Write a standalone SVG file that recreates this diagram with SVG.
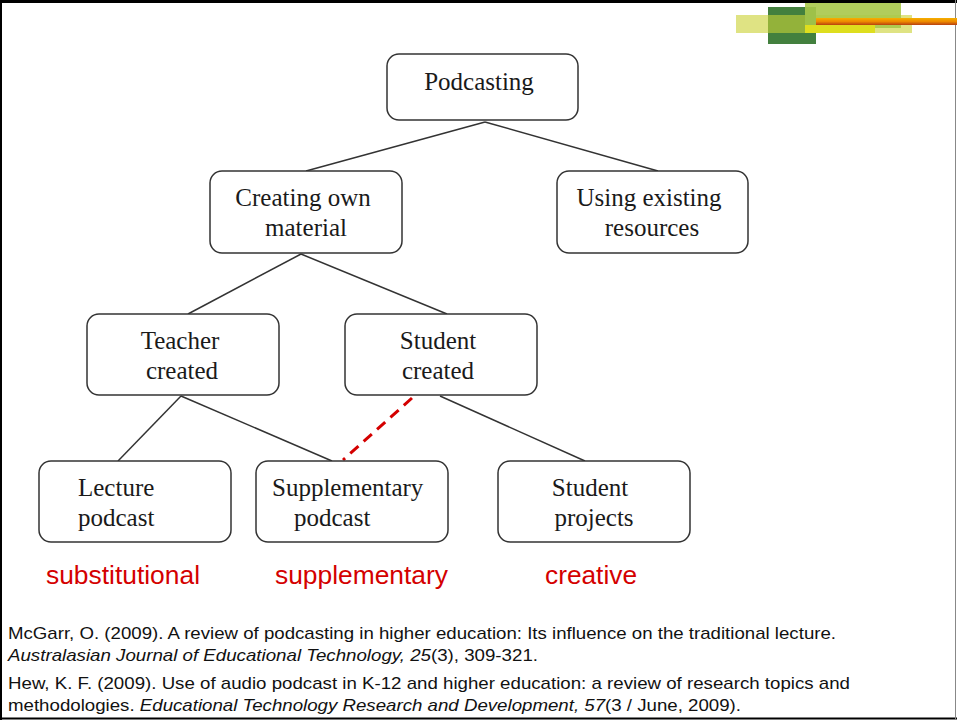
<svg xmlns="http://www.w3.org/2000/svg" width="957" height="720" viewBox="0 0 957 720">
<defs>
<style>
.box{fill:#fff;stroke:#333;stroke-width:1.5}
.nt{font-family:"Liberation Serif","Times New Roman",serif;font-size:25px;fill:#1a1a1a}
.c{text-anchor:middle}
.edge{stroke:#333;stroke-width:1.5;fill:none}
.dash{stroke:#d40000;stroke-width:3;stroke-dasharray:11 7;fill:none}
.lab{font-family:"Liberation Sans",Arial,sans-serif;font-size:26px;fill:#d40000}
.ref{font-family:"Liberation Sans",Arial,sans-serif;font-size:17px;fill:#111}
.it{font-style:italic}
</style>
<linearGradient id="og" x1="0" y1="0" x2="0" y2="1">
<stop offset="0" stop-color="#f5b000"/>
<stop offset="0.5" stop-color="#ee8a00"/>
<stop offset="1" stop-color="#b84010"/>
</linearGradient>
</defs>
<rect x="0" y="0" width="957" height="720" fill="#fff"/>
<g id="frame">
<line x1="0" y1="1.5" x2="957" y2="1.5" stroke="#000" stroke-width="3"/>
<line x1="1" y1="0" x2="1" y2="720" stroke="#000" stroke-width="2"/>
<line x1="0" y1="718.5" x2="957" y2="718.5" stroke="#000" stroke-width="2"/>
<line x1="955.5" y1="0" x2="955.5" y2="720" stroke="#888" stroke-width="1"/>
</g>
<g id="logo">
<rect x="736" y="15" width="176" height="18" fill="#dfe383"/>
<rect x="768" y="7" width="48" height="37" fill="#43803e"/>
<rect x="805" y="3" width="96" height="25" fill="#a9c84a" opacity="0.9"/>
<rect x="768" y="15" width="37" height="18" fill="#93b23a"/>
<rect x="805" y="25" width="70" height="8" fill="#dede1e"/>
<rect x="816" y="18" width="141" height="7" fill="url(#og)"/>
</g>
<g id="connectors">
<line class="edge" x1="485" y1="122" x2="306" y2="171"/>
<line class="edge" x1="485" y1="122" x2="658" y2="171"/>
<line class="edge" x1="301" y1="254" x2="188" y2="314"/>
<line class="edge" x1="301" y1="254" x2="447" y2="314"/>
<line class="edge" x1="181" y1="396" x2="118" y2="461"/>
<line class="edge" x1="181" y1="396" x2="332" y2="461"/>
<line class="edge" x1="440" y1="396" x2="585" y2="461"/>
<line class="dash" x1="412" y1="398" x2="343" y2="460"/>
</g>
<g id="podcasting">
<rect class="box" x="387" y="54" width="191" height="66" rx="12"/>
<text class="nt c" x="479" y="90">Podcasting</text>
</g>
<g id="creating">
<rect class="box" x="210" y="171" width="192" height="82" rx="12"/>
<text class="nt c" x="303" y="206">Creating own</text>
<text class="nt c" x="306" y="236">material</text>
</g>
<g id="existing">
<rect class="box" x="557" y="171" width="191" height="82" rx="12"/>
<text class="nt c" x="649" y="206">Using existing</text>
<text class="nt c" x="652" y="236">resources</text>
</g>
<g id="teacher">
<rect class="box" x="87" y="314" width="192" height="81" rx="12"/>
<text class="nt c" x="180" y="349">Teacher</text>
<text class="nt c" x="182" y="379">created</text>
</g>
<g id="student">
<rect class="box" x="345" y="314" width="192" height="81" rx="12"/>
<text class="nt c" x="438" y="349">Student</text>
<text class="nt c" x="438" y="379">created</text>
</g>
<g id="lecture">
<rect class="box" x="39" y="461" width="192" height="81" rx="12"/>
<text class="nt" x="78" y="496">Lecture</text>
<text class="nt" x="78" y="526">podcast</text>
</g>
<g id="supplementary">
<rect class="box" x="256" y="461" width="192" height="81" rx="12"/>
<text class="nt" x="272" y="496">Supplementary</text>
<text class="nt" x="294" y="526">podcast</text>
</g>
<g id="projects">
<rect class="box" x="498" y="461" width="192" height="81" rx="12"/>
<text class="nt c" x="590" y="496">Student</text>
<text class="nt c" x="594" y="526">projects</text>
</g>
<g id="labels">
<text class="lab" x="46" y="584" textLength="154" lengthAdjust="spacingAndGlyphs">substitutional</text>
<text class="lab" x="275" y="584" textLength="173" lengthAdjust="spacingAndGlyphs">supplementary</text>
<text class="lab" x="545" y="584" textLength="92" lengthAdjust="spacingAndGlyphs">creative</text>
</g>
<g id="references">
<text class="ref" x="8" y="639" textLength="828" lengthAdjust="spacingAndGlyphs">McGarr, O. (2009). A review of podcasting in higher education: Its influence on the traditional lecture.</text>
<text class="ref" x="8" y="661" textLength="530" lengthAdjust="spacingAndGlyphs"><tspan class="it">Australasian Journal of Educational Technology, 25</tspan>(3), 309-321.</text>
<text class="ref" x="8" y="689" textLength="842" lengthAdjust="spacingAndGlyphs">Hew, K. F. (2009). Use of audio podcast in K-12 and higher education: a review of research topics and</text>
<text class="ref" x="8" y="711" textLength="733" lengthAdjust="spacingAndGlyphs">methodologies. <tspan class="it">Educational Technology Research and Development, 57</tspan>(3 / June, 2009).</text>
</g>
</svg>
